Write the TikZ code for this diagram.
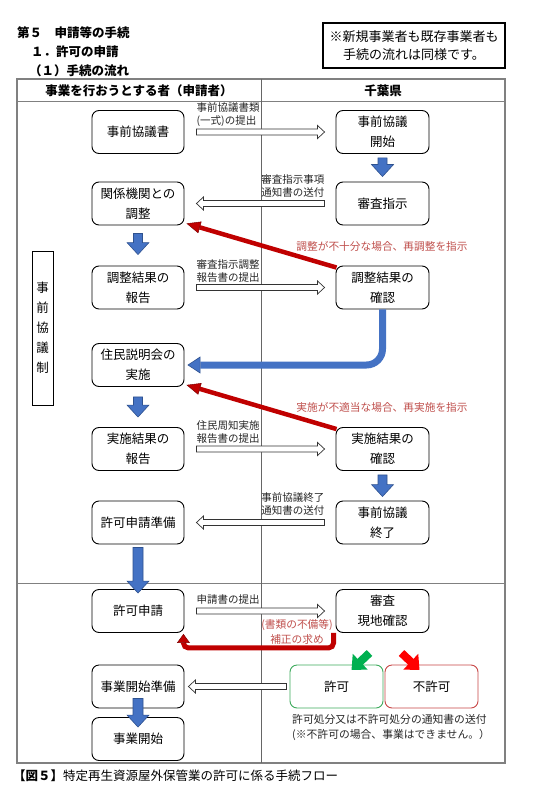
\documentclass[tikz,border=0pt]{standalone}
\usepackage{fontspec}
\setmainfont{Noto Sans CJK JP}
\usetikzlibrary{arrows.meta,calc}
\definecolor{blk}{HTML}{4472C4}
\definecolor{blkd}{HTML}{2F528F}
\definecolor{rd}{HTML}{C00000}
\definecolor{rdd}{HTML}{7F0000}
\definecolor{rlab}{HTML}{C0504D}
\definecolor{gr}{HTML}{00B050}
\definecolor{grb}{HTML}{3DAA5C}
\definecolor{rb}{HTML}{C84646}
\definecolor{brt}{HTML}{FF0000}
\definecolor{tgray}{HTML}{808080}
\newcommand\vblk[5]{%
  \path[blockb] let \p1=(#1.south), \p2=(#2.north) in
   ({\x1-#5},{\y1-(#3)}) -- ({\x1+#5},{\y1-(#3)}) -- ({\x1+#5},{\y2+(#4)+12pt}) -- ({\x1+11pt},{\y2+(#4)+12pt})
   -- ({\x1},{\y2+(#4)}) -- ({\x1-11pt},{\y2+(#4)+12pt}) -- ({\x1-#5},{\y2+(#4)+12pt}) -- cycle;}
\newcommand\holarrow[2]{%
  \path[holb] let \p1=#1, \p2=#2, \n1={sign(\x2-\x1)} in
   ({\x1},{\y1+3pt}) -- ({\x2-\n1*7pt},{\y1+3pt}) -- ({\x2-\n1*7pt},{\y1+6.5pt}) -- ({\x2},{\y1})
   -- ({\x2-\n1*7pt},{\y1-6.5pt}) -- ({\x2-\n1*7pt},{\y1-3pt}) -- ({\x1},{\y1-3pt}) -- cycle;}
\begin{document}
\begin{tikzpicture}[x=1pt,y=-1pt,
  box/.style={draw, line width=0.9pt, rounded corners=7pt, minimum width=92pt, minimum height=43pt,
    align=center, font=\fontsize{12.5}{20}\selectfont, inner sep=1pt},
  rbox/.style={box, minimum width=93pt},
  lbl/.style={font=\fontsize{10.5}{13}\selectfont, inner sep=0pt, text=black!85},
  rlbl/.style={font=\fontsize{10.7}{15}\selectfont, inner sep=0pt, text=rlab},
  holb/.style={draw=black!80, fill=white, line width=0.7pt, line join=miter},
  blockb/.style={fill=blk, draw=blkd, line width=0.6pt},
  ttl/.style={anchor=west, font=\bfseries\fontsize{12.5}{15}\selectfont, inner sep=0pt}]
\useasboundingbox (0,0) rectangle (540,786);
\fill[white] (0,0) rectangle (540,786);

% titles
\node[ttl] (t1) at (17,33) {第５　申請等の手続};
\node[ttl] (t2) at (31,52) {１．許可の申請};
\node[ttl] (t3) at (29,71) {（１）手続の流れ};
\node[draw, line width=1.2pt, minimum width=182pt, minimum height=45pt, align=center,
  font=\fontsize{13}{18}\selectfont] (note) at (414,45.5) {※新規事業者も既存事業者も\\手続の流れは同様です。};

% table
\draw[tgray, line width=1.3pt] (17,79) rectangle (505,763);
\draw[tgray, line width=1pt] (17,102) -- (505,102);
\draw[tgray, line width=1pt] (17,583) -- (505,583);
\draw[black!60, line width=0.7pt] (261,79) -- (261,763);
\node[font=\bfseries\fontsize{12.5}{15}\selectfont] (h1) at (139,90.5) {事業を行おうとする者（申請者）};
\node[font=\bfseries\fontsize{12.5}{15}\selectfont] (h2) at (383,90.5) {千葉県};

% vertical label
\node[draw, line width=0.9pt, minimum width=21pt, minimum height=154pt, align=center, inner sep=0pt,
  font=\fontsize{12.5}{20}\selectfont] (sz) at (42.5,328) {事\\前\\協\\議\\制};

% boxes
\node[box] (a1) at (138,132) {事前協議書};
\node[rbox] (b1) at (382.5,132) {事前協議\\開始};
\node[box] (a2) at (138,203.5) {関係機関との\\調整};
\node[rbox] (b2) at (382.5,203.5) {審査指示};
\node[box] (a3) at (138,287.5) {調整結果の\\報告};
\node[rbox] (b3) at (382.5,287.5) {調整結果の\\確認};
\node[box] (a4) at (138,365) {住民説明会の\\実施};
\node[box] (a5) at (138,449) {実施結果の\\報告};
\node[rbox] (b5) at (382.5,449) {実施結果の\\確認};
\node[box] (a6) at (138,522.5) {許可申請準備};
\node[rbox] (b6) at (382.5,522.5) {事前協議\\終了};
\node[box] (a7) at (138,611) {許可申請};
\node[rbox] (b7) at (382.5,611) {審査\\現地確認};
\node[box] (a8) at (138,686.5) {事業開始準備};
\node[rbox, draw=grb] (k) at (336.5,686.5) {許可};
\node[rbox, draw=rb] (f) at (431.5,686.5) {不許可};
\node[box] (a9) at (138,739) {事業開始};

% hollow arrows and labels
\holarrow{($(a1.east)+(12,0)$)}{($(b1.west)+(-11,0)$)}
\node[lbl, anchor=south west, align=left] (l1) at ($(a1.east)+(12,-5)$) {事前協議書類\\(一式)の提出};
\holarrow{($(b2.west)+(-11,0)$)}{($(a2.east)+(12,0)$)}
\node[lbl, anchor=south east, align=right] (l2) at ($(b2.west)+(-11,-6)$) {審査指示事項\\通知書の送付};
\holarrow{($(a3.east)+(12,0)$)}{($(b3.west)+(-11,0)$)}
\node[lbl, anchor=south west, align=left] (l3) at ($(a3.east)+(12,-5)$) {審査指示調整\\報告書の提出};
\holarrow{($(a5.east)+(12,0)$)}{($(b5.west)+(-11,0)$)}
\node[lbl, anchor=south west, align=left] (l5) at ($(a5.east)+(12,-5)$) {住民周知実施\\報告書の提出};
\holarrow{($(b6.west)+(-11,0)$)}{($(a6.east)+(12,0)$)}
\node[lbl, anchor=south east, align=right] (l6) at ($(b6.west)+(-11,-7)$) {事前協議終了\\通知書の送付};
\holarrow{($(a7.east)+(12,0)$)}{($(b7.west)+(-11,0)$)}
\node[lbl, anchor=south west, align=left] (l7) at ($(a7.east)+(12,-6)$) {申請書の提出};
\holarrow{($(k.west)+(-3,0)$)}{($(a8.east)+(4,0)$)}

% blue block arrows
\vblk{b1}{b2}{4pt}{5pt}{4.5pt}
\vblk{a2}{a3}{8pt}{11pt}{4.5pt}
\vblk{a4}{a5}{10pt}{10pt}{4.5pt}
\vblk{b5}{b6}{4pt}{4pt}{4.5pt}
\vblk{a6}{a7}{3pt}{-4pt}{5pt}
\vblk{a8}{a9}{-10pt}{-10pt}{5pt}

% curved blue arrow
\draw[blk, line width=7pt, rounded corners=16pt,
  -{Triangle[width=17pt,length=13pt,line width=0.6pt,fill=blk,color=blkd]}]
  (b3.south) -- (b3.south |- a4.east) -- ($(a4.east)+(3,0)$);

% red return arrows
\draw[rd, line width=4.5pt, -{Triangle[width=12pt,length=14pt,line width=0.5pt,fill=rd,color=rdd]}]
  ($(b3.north west)+(1,2)$) -- ($(a2.south east)+(2,-2)$);
\node[rlbl] (r1) at (382,246) {調整が不十分な場合、再調整を指示};
\draw[rd, line width=4.5pt, -{Triangle[width=12pt,length=14pt,line width=0.5pt,fill=rd,color=rdd]}]
  ($(b5.north west)+(1,2)$) -- ($(a4.south east)+(2,-2)$);
\node[rlbl] (r2) at (382,407) {実施が不適当な場合、再実施を指示};

\draw[rd, line width=5pt, rounded corners=5pt, -{Triangle[width=13pt,length=9pt,line width=0.5pt,fill=rd,color=rdd]}]
  ($(b7.south west)+(-2,0)$) -- ++(0,15) -- ($(a7.south east)+(-1,15)$) -- ($(a7.south east)+(-1,1)$);
\node[rlbl, align=center] (r3) at (297,632) {(書類の不備等)\\補正の求め};

% green / red decision arrows
\draw[gr, line width=8pt, -{Triangle[width=21pt,length=12pt]}]
  ($(b7.south)+(-13,20)$) -- ($(b7.south)+(-31,37)$);
\draw[brt, line width=8pt, -{Triangle[width=21pt,length=12pt]}]
  ($(b7.south)+(19,20)$) -- ($(b7.south)+(37,37)$);

\node[font=\fontsize{10.8}{15}\selectfont, inner sep=0pt, anchor=north west, align=left, text=black!85] (n1)
  at (292,714.5) {許可処分又は不許可処分の通知書の送付\\(※不許可の場合、事業はできません。）};

% caption
\node[ttl] (cap) at (13,776) {\textbf{【図５】}\mdseries 特定再生資源屋外保管業の許可に係る手続フロー};
\end{tikzpicture}
\end{document}
